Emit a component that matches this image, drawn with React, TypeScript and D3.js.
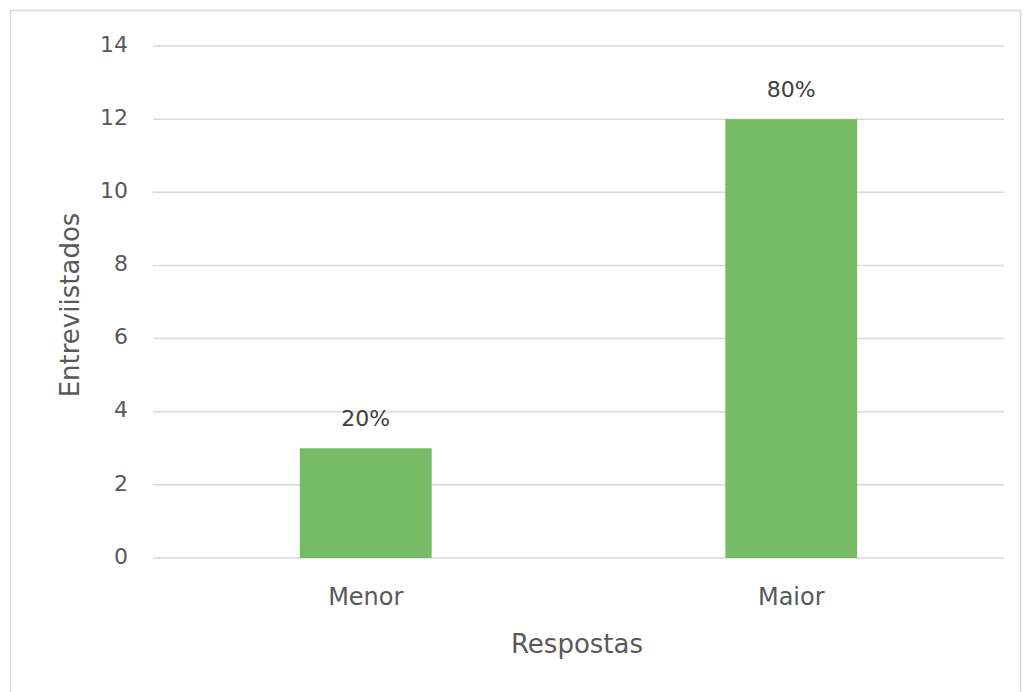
import React from "react";
import * as d3 from "d3";

const categories = ["Menor", "Maior"];
const values = [3, 12];
const labels = ["20%", "80%"];
const yTicks = [0, 2, 4, 6, 8, 10, 12, 14];

export default function App() {
  const W = 1030, H = 692;
  const x = d3.scaleBand().domain(categories).range([153, 1004]).paddingInner(0.69).paddingOuter(0.345);
  const y = d3.scaleLinear().domain([0, 14]).range([558, 46]);
  const font = "'DejaVu Sans', 'Open Sans', sans-serif";
  const txt = "#595959";
  return (
    <svg width={W} height={H} style={{ position: "absolute", left: 0, top: 0, background: "#fff" }}>
      <rect x={10.5} y={10.5} width={1010} height={700} fill="#fff" stroke="#d9d9d9" strokeWidth={1.5} />
      {yTicks.map(t => (
        <g key={t}>
          <line x1={153} x2={1004} y1={y(t)} y2={y(t)} stroke="#d9d9d9" strokeWidth={1.5} />
          <text x={128} y={y(t) - 2} dy="0.35em" textAnchor="end" fontSize={22} fill={txt} fontFamily={font}>{t}</text>
        </g>
      ))}
      {categories.map((c, i) => (
        <g key={c}>
          <rect x={x(c)} y={y(values[i])} width={x.bandwidth()} height={y(0) - y(values[i])} fill="#77bb66" />
          <text x={x(c)! + x.bandwidth() / 2} y={y(values[i]) - 30} dy="0.35em" textAnchor="middle" fontSize={22} fill="#404040" fontFamily={font}>{labels[i]}</text>
          <text x={x(c)! + x.bandwidth() / 2} y={596.5} dy="0.35em" textAnchor="middle" fontSize={24} fill={txt} fontFamily={font}>{c}</text>
        </g>
      ))}
      <text x={577} y={644} dy="0.35em" textAnchor="middle" fontSize={26} fill={txt} fontFamily={font}>Respostas</text>
      <text transform={`translate(70,305) rotate(-90)`} dy="0.35em" textAnchor="middle" fontSize={26} fill={txt} fontFamily={font}>Entreviistados</text>
    </svg>
  );
}
